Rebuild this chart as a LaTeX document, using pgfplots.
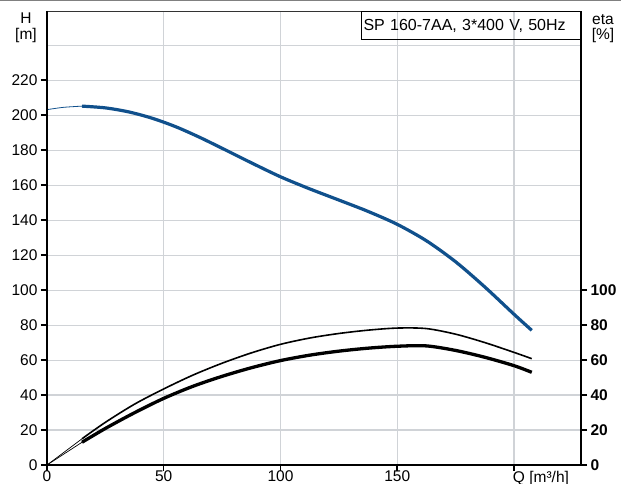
\documentclass[border=0pt]{standalone}
\usepackage{fontspec}
\setmainfont{Liberation Sans}
\usepackage{pgfplots}
\pgfplotsset{compat=1.18}
\definecolor{hblue}{RGB}{16,80,140}
\definecolor{gridc}{RGB}{208,211,215}
\newcommand{\chartfont}{\fontsize{15.5bp}{18bp}\selectfont}
\begin{document}
\begin{tikzpicture}[font=\chartfont]
\useasboundingbox (-47bp,-19bp) rectangle (574bp,465bp);
\draw[gray, line width=1.5bp] (-47bp,464.3bp) -- (574bp,464.3bp);
\begin{axis}[
  at={(0,0)}, anchor=south west, scale only axis,
  width=534bp, height=454bp,
  xmin=0, xmax=228.7, ymin=0, ymax=259.6,
  axis line style={draw=none},
  xtick={0,50,100,150,200},
  xticklabels={0,50,100,150,\rlap{\hspace*{-1bp}Q [m³/h]}},
  ytick={0,20,...,220},
  minor ytick={240}, minor xtick={},
  grid=both,
  major grid style={gridc, line width=1.1bp},
  minor grid style={gridc, line width=1.1bp},
  minor tick length=0pt,
  xticklabel style={yshift=3.5bp},
  tick align=outside, tick pos=left,
  major tick length=6bp, tick style={black, line width=1.5bp},
  /pgf/number format/assume math mode=true,
  clip=false,
]
% H curve
\addplot[hblue, line width=0.8bp, smooth] coordinates {(0,203.2) (7,204.5) (15,205.2)};
\addplot[hblue, line width=3.2bp, smooth] coordinates {
(15,205.2) (25,204.2) (35,201.9) (45,198.3) (55,193.5) (65,187.6) (75,181.1)
(87.5,172.8) (100,164.8) (112.5,157.9) (125,151.5) (137.5,145.0) (150,137.6)
(162.5,128.2) (175,116.2) (187.5,101.8) (200,86.2) (207.6,77.0)};
% eta thin start
\addplot[black, line width=0.7bp] coordinates {(0,0) (15,15)};
\addplot[black, line width=0.7bp] coordinates {(0,0) (15,13)};
% eta upper (thin)
\addplot[black, line width=1.6bp, smooth] coordinates {
(15,15) (25,24.4) (37.5,34.8) (50,43.5) (62.5,51.4) (75,58.2) (87.5,64.1) (100,69)
(112.5,72.6) (125,75.2) (137.5,77.1) (150,78.3) (162.5,78.0) (175,74.8) (187.5,70.0)
(200,64.4) (207.6,60.8)};
% eta lower (thick)
\addplot[black, line width=3.3bp, smooth] coordinates {
(15,13) (25,20.9) (37.5,29.9) (50,38.1) (62.5,45) (75,50.7) (87.5,55.6) (100,59.7)
(112.5,62.8) (125,65.1) (137.5,66.8) (150,67.9) (162.5,68.1) (175,65.5) (187.5,61.6)
(200,56.8) (207.6,53)};
% frame
\draw[black!80, line width=0.8bp] (rel axis cs:0,1) -- (rel axis cs:1,1);
\draw[black, line width=2bp] (rel axis cs:0,1) -- (rel axis cs:0,0) -- (rel axis cs:1,0) -- (rel axis cs:1,1);
% title box
\node[draw=black, line width=1bp, anchor=north east, minimum width=219bp,
  minimum height=28bp, inner sep=2bp, text width=215bp, align=left,
  font=\fontsize{16bp}{19bp}\selectfont]
  at (rel axis cs:1,1) {SP 160-7AA, 3*400 V, 50Hz};
% axis titles
\node[anchor=base] at ([xshift=-21bp, yshift=-12.5bp]rel axis cs:0,1) {H};
\node[anchor=base] at ([xshift=-21bp, yshift=-28.5bp]rel axis cs:0,1) {[m]};
\node[anchor=base] at ([xshift=22bp, yshift=-13.5bp]rel axis cs:1,1) {eta};
\node[anchor=base] at ([xshift=22bp, yshift=-29bp]rel axis cs:1,1) {[\%]};
\end{axis}
\begin{axis}[
  at={(0,0)}, anchor=south west, scale only axis,
  width=534bp, height=454bp,
  xmin=0, xmax=228.7, ymin=0, ymax=259.6,
  axis line style={draw=none}, hide x axis,
  ytick={0,20,...,100}, ytick pos=right,
  tick align=outside, major tick length=6bp, tick style={black, line width=1.5bp},
  yticklabel style={font=\chartfont\bfseries},
  /pgf/number format/assume math mode=true,
]
\end{axis}
\end{tikzpicture}
\end{document}
